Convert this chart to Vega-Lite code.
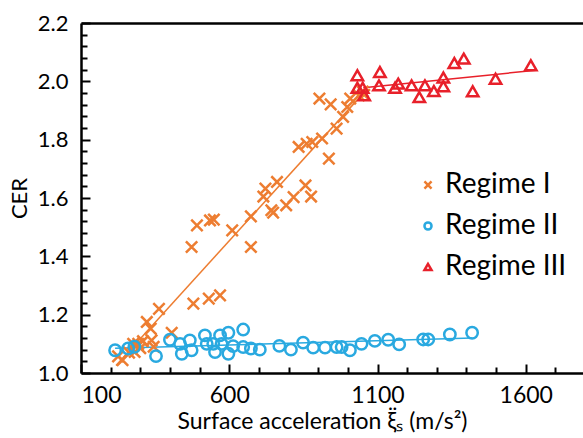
{
  "$schema": "https://vega.github.io/schema/vega-lite/v6.json",
  "width": 502,
  "height": 350,
  "autosize": "none",
  "padding": {"left": 81, "top": 23, "right": 0, "bottom": 65},
  "background": "white",
  "config": {
    "view": {"stroke": null},
    "font": "Lato",
    "axis": {"grid": false, "labelFont": "Lato", "titleFont": "Lato", "labelColor": "#000", "titleColor": "#000", "tickColor": "#000", "domainColor": "#000", "titleFontWeight": "normal"}
  },
  "datasets": {
    "points": [
      {"series": "Regime I", "x": 225, "y": 1.057},
      {"series": "Regime I", "x": 240, "y": 1.044},
      {"series": "Regime I", "x": 262, "y": 1.07},
      {"series": "Regime I", "x": 276, "y": 1.1},
      {"series": "Regime I", "x": 281, "y": 1.072},
      {"series": "Regime I", "x": 293, "y": 1.1},
      {"series": "Regime I", "x": 300, "y": 1.085},
      {"series": "Regime I", "x": 309, "y": 1.109},
      {"series": "Regime I", "x": 322, "y": 1.175},
      {"series": "Regime I", "x": 335, "y": 1.152},
      {"series": "Regime I", "x": 338, "y": 1.112},
      {"series": "Regime I", "x": 345, "y": 1.09},
      {"series": "Regime I", "x": 363, "y": 1.22},
      {"series": "Regime I", "x": 406, "y": 1.138},
      {"series": "Regime I", "x": 473, "y": 1.432},
      {"series": "Regime I", "x": 479, "y": 1.238},
      {"series": "Regime I", "x": 491, "y": 1.506},
      {"series": "Regime I", "x": 531, "y": 1.255},
      {"series": "Regime I", "x": 535, "y": 1.523},
      {"series": "Regime I", "x": 548, "y": 1.526},
      {"series": "Regime I", "x": 569, "y": 1.266},
      {"series": "Regime I", "x": 610, "y": 1.489},
      {"series": "Regime I", "x": 673, "y": 1.537},
      {"series": "Regime I", "x": 673, "y": 1.432},
      {"series": "Regime I", "x": 715, "y": 1.605},
      {"series": "Regime I", "x": 722, "y": 1.632},
      {"series": "Regime I", "x": 742, "y": 1.558},
      {"series": "Regime I", "x": 748, "y": 1.55},
      {"series": "Regime I", "x": 761, "y": 1.655},
      {"series": "Regime I", "x": 792, "y": 1.575},
      {"series": "Regime I", "x": 817, "y": 1.603},
      {"series": "Regime I", "x": 834, "y": 1.775},
      {"series": "Regime I", "x": 857, "y": 1.643},
      {"series": "Regime I", "x": 861, "y": 1.786},
      {"series": "Regime I", "x": 876, "y": 1.605},
      {"series": "Regime I", "x": 880, "y": 1.792},
      {"series": "Regime I", "x": 904, "y": 1.941},
      {"series": "Regime I", "x": 913, "y": 1.804},
      {"series": "Regime I", "x": 936, "y": 1.735},
      {"series": "Regime I", "x": 942, "y": 1.921},
      {"series": "Regime I", "x": 962, "y": 1.838},
      {"series": "Regime I", "x": 984, "y": 1.878},
      {"series": "Regime I", "x": 998, "y": 1.912},
      {"series": "Regime I", "x": 1008, "y": 1.941},
      {"series": "Regime I", "x": 1037, "y": 1.952},
      {"series": "Regime I", "x": 1050, "y": 1.965},
      {"series": "Regime I", "x": 1055, "y": 1.954},
      {"series": "Regime II", "x": 215, "y": 1.078},
      {"series": "Regime II", "x": 259, "y": 1.084},
      {"series": "Regime II", "x": 280, "y": 1.09},
      {"series": "Regime II", "x": 353, "y": 1.058},
      {"series": "Regime II", "x": 400, "y": 1.114},
      {"series": "Regime II", "x": 434, "y": 1.1},
      {"series": "Regime II", "x": 440, "y": 1.066},
      {"series": "Regime II", "x": 467, "y": 1.112},
      {"series": "Regime II", "x": 473, "y": 1.078},
      {"series": "Regime II", "x": 518, "y": 1.129},
      {"series": "Regime II", "x": 524, "y": 1.1},
      {"series": "Regime II", "x": 546, "y": 1.1},
      {"series": "Regime II", "x": 552, "y": 1.072},
      {"series": "Regime II", "x": 569, "y": 1.129},
      {"series": "Regime II", "x": 574, "y": 1.1},
      {"series": "Regime II", "x": 597, "y": 1.138},
      {"series": "Regime II", "x": 597, "y": 1.066},
      {"series": "Regime II", "x": 613, "y": 1.092},
      {"series": "Regime II", "x": 647, "y": 1.149},
      {"series": "Regime II", "x": 647, "y": 1.089},
      {"series": "Regime II", "x": 673, "y": 1.084},
      {"series": "Regime II", "x": 703, "y": 1.08},
      {"series": "Regime II", "x": 769, "y": 1.093},
      {"series": "Regime II", "x": 808, "y": 1.08},
      {"series": "Regime II", "x": 849, "y": 1.104},
      {"series": "Regime II", "x": 883, "y": 1.087},
      {"series": "Regime II", "x": 923, "y": 1.087},
      {"series": "Regime II", "x": 962, "y": 1.089},
      {"series": "Regime II", "x": 979, "y": 1.089},
      {"series": "Regime II", "x": 1007, "y": 1.078},
      {"series": "Regime II", "x": 1046, "y": 1.1},
      {"series": "Regime II", "x": 1091, "y": 1.11},
      {"series": "Regime II", "x": 1136, "y": 1.114},
      {"series": "Regime II", "x": 1173, "y": 1.098},
      {"series": "Regime II", "x": 1254, "y": 1.115},
      {"series": "Regime II", "x": 1271, "y": 1.115},
      {"series": "Regime II", "x": 1344, "y": 1.132},
      {"series": "Regime II", "x": 1419, "y": 1.138},
      {"series": "Regime III", "x": 1032, "y": 2.021},
      {"series": "Regime III", "x": 1032, "y": 1.978},
      {"series": "Regime III", "x": 1050, "y": 1.978},
      {"series": "Regime III", "x": 1055, "y": 1.952},
      {"series": "Regime III", "x": 1108, "y": 2.032},
      {"series": "Regime III", "x": 1105, "y": 1.986},
      {"series": "Regime III", "x": 1159, "y": 1.978},
      {"series": "Regime III", "x": 1170, "y": 1.992},
      {"series": "Regime III", "x": 1215, "y": 1.986},
      {"series": "Regime III", "x": 1241, "y": 1.946},
      {"series": "Regime III", "x": 1260, "y": 1.986},
      {"series": "Regime III", "x": 1290, "y": 1.967},
      {"series": "Regime III", "x": 1322, "y": 2.013},
      {"series": "Regime III", "x": 1322, "y": 1.983},
      {"series": "Regime III", "x": 1359, "y": 2.063},
      {"series": "Regime III", "x": 1391, "y": 2.078},
      {"series": "Regime III", "x": 1421, "y": 1.966},
      {"series": "Regime III", "x": 1498, "y": 2.009},
      {"series": "Regime III", "x": 1617, "y": 2.055}
    ],
    "fits": [
      {"series": "Regime I", "x": 218, "y": 1.026},
      {"series": "Regime I", "x": 1061, "y": 1.969},
      {"series": "Regime II", "x": 215, "y": 1.085},
      {"series": "Regime II", "x": 1420, "y": 1.12},
      {"series": "Regime III", "x": 1052, "y": 1.978},
      {"series": "Regime III", "x": 1635, "y": 2.038}
    ]
  },
  "resolve": {"axis": {"x": "independent", "y": "independent"}},
  "layer": [
    {
      "data": {"name": "fits"},
      "transform": [{"filter": "datum.series === 'Regime I'"}],
      "mark": {"type": "line", "strokeWidth": 1.5, "color": "#ED7D31"},
      "encoding": {
        "x": {"field": "x", "type": "quantitative", "scale": {"domain": [100, 1793], "nice": false, "zero": false},
          "axis": {"orient": "top", "labels": false, "ticks": false, "title": null, "domain": true, "domainWidth": 2.5}},
        "y": {"field": "y", "type": "quantitative", "scale": {"domain": [1.0, 2.2], "nice": false, "zero": false},
          "axis": {"orient": "left", "labels": false, "domain": false, "title": null, "tickSize": -6, "tickWidth": 2,
            "values": [1.04, 1.08, 1.12, 1.16, 1.24, 1.28, 1.32, 1.36, 1.44, 1.48, 1.52, 1.56, 1.64, 1.68, 1.72, 1.76, 1.84, 1.88, 1.92, 1.96, 2.04, 2.08, 2.12, 2.16]}}
      }
    },
    {
      "data": {"name": "fits"},
      "transform": [{"filter": "datum.series === 'Regime II'"}],
      "mark": {"type": "line", "strokeWidth": 1.5, "color": "#29A9E0"},
      "encoding": {
        "x": {"field": "x", "type": "quantitative",
          "axis": {"orient": "bottom", "labels": false, "domain": false, "title": null, "tickSize": -6, "tickWidth": 2,
            "values": [200, 300, 400, 500, 700, 800, 900, 1000, 1200, 1300, 1400, 1500, 1700]}},
        "y": {"field": "y", "type": "quantitative", "axis": null}
      }
    },
    {
      "data": {"name": "fits"},
      "transform": [{"filter": "datum.series === 'Regime III'"}],
      "mark": {"type": "line", "strokeWidth": 1.5, "color": "#E8202A"},
      "encoding": {
        "x": {"field": "x", "type": "quantitative", "axis": null},
        "y": {"field": "y", "type": "quantitative", "axis": null}
      }
    },
    {
      "data": {"name": "points"},
      "mark": {"type": "point", "filled": false, "strokeWidth": 2.5, "opacity": 1, "size": 130},
      "encoding": {
        "x": {"field": "x", "type": "quantitative",
          "axis": {"orient": "bottom", "values": [100, 600, 1100, 1600], "format": "d", "tickSize": -9, "tickWidth": 2, "domainWidth": 2.5,
            "labelFontSize": 23, "labelPadding": 20, "title": "Surface acceleration ξ̈ₛ (m/s²)", "titleFontSize": 23, "titlePadding": 3, "titleX": 241}},
        "y": {"field": "y", "type": "quantitative",
          "axis": {"orient": "left", "values": [1.0, 1.2, 1.4, 1.6, 1.8, 2.0, 2.2], "format": ".1f", "tickSize": -9, "tickWidth": 2, "domainWidth": 2.5,
            "labelFontSize": 22, "labelPadding": 22, "title": "CER", "titleFontSize": 22, "titlePadding": 6}},
        "color": {"field": "series", "type": "nominal", "title": null,
          "scale": {"domain": ["Regime I", "Regime II", "Regime III"], "range": ["#ED7D31", "#29A9E0", "#E8202A"]},
          "legend": {"orient": "none", "legendX": 333, "legendY": 148, "title": null, "labelFontSize": 28, "labelFont": "Lato", "labelColor": "#000",
            "symbolSize": 50, "symbolStrokeWidth": 2.5, "rowPadding": 13, "labelOffset": 3}},
        "shape": {"field": "series", "type": "nominal",
          "scale": {"domain": ["Regime I", "Regime II", "Regime III"], "range": ["M-1,-1L1,1M-1,1L1,-1", "circle", "triangle-up"]}}
      }
    }
  ]
}
